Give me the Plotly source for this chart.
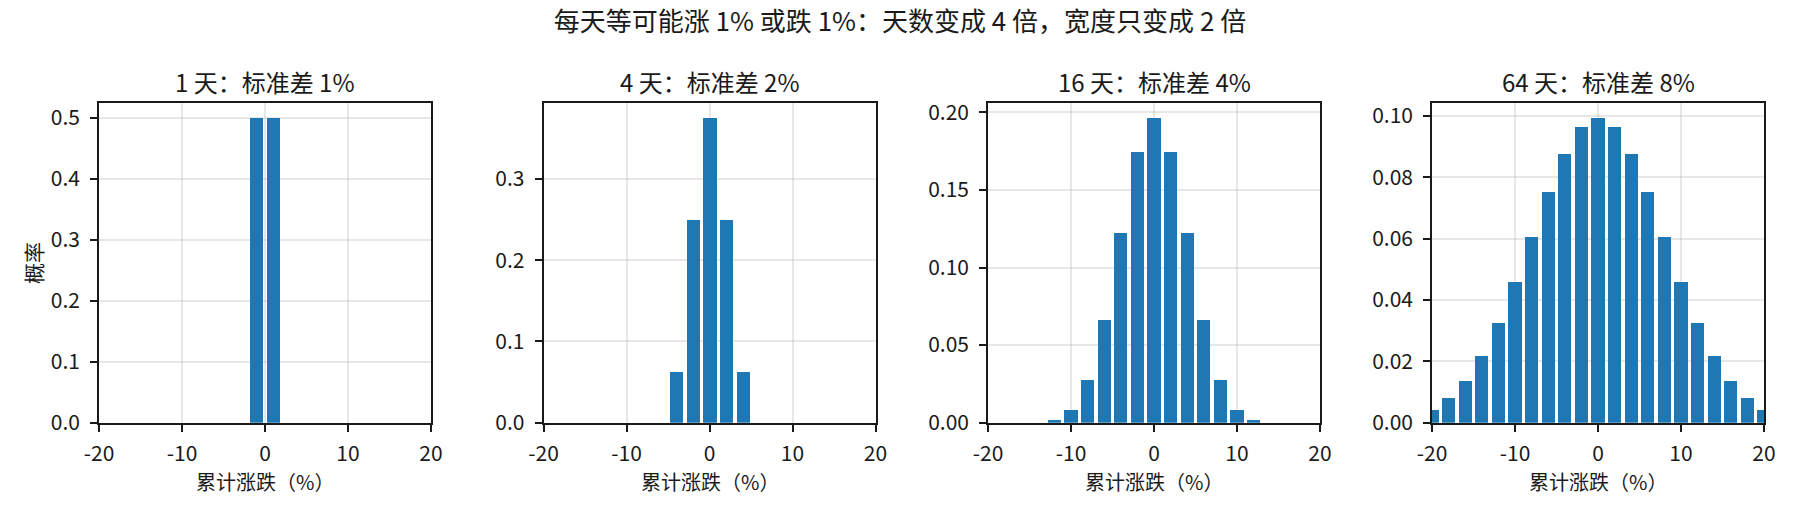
"""
Random walk of +1% / -1% per day: distribution of the cumulative move
after 1, 4, 16 and 64 days, drawn as four bar panels side by side.
"""
import plotly.graph_objects as go

# ---------------------------------------------------------------------------
# Data
# ---------------------------------------------------------------------------
x_1d = [-1, 1]
p_1d = [0.5, 0.5]

x_4d = [-4, -2, 0, 2, 4]
p_4d = [0.0625, 0.25, 0.375, 0.25, 0.0625]

x_16d = [-12, -10, -8, -6, -4, -2, 0, 2, 4, 6, 8, 10, 12]
p_16d = [0.0018, 0.0085, 0.0278, 0.0667, 0.1222, 0.1746, 0.1964,
         0.1746, 0.1222, 0.0667, 0.0278, 0.0085, 0.0018]

x_64d = [-20, -18, -16, -14, -12, -10, -8, -6, -4, -2, 0,
         2, 4, 6, 8, 10, 12, 14, 16, 18, 20]
p_64d = [0.0044, 0.0080, 0.0136, 0.0217, 0.0326, 0.0459, 0.0606, 0.0753,
         0.0878, 0.0963, 0.0993, 0.0963, 0.0878, 0.0753, 0.0606, 0.0459,
         0.0326, 0.0217, 0.0136, 0.0080, 0.0044]

panel_titles = ['1 天：标准差 1%', '4 天：标准差 2%',
                '16 天：标准差 4%', '64 天：标准差 8%']
suptitle = '每天等可能涨 1% 或跌 1%：天数变成 4 倍，宽度只变成 2 倍'
x_label = '累计涨跌（%）'
y_label = '概率'

x_tickvals = [-20, -10, 0, 10, 20]
x_ticktext = ['-20', '-10', '0', '10', '20']
y_dticks = [0.1, 0.1, 0.05, 0.02]
y_formats = ['.1f', '.1f', '.2f', '.2f']

# ---------------------------------------------------------------------------
# Layout helpers
# ---------------------------------------------------------------------------
W, H = 1800, 510
FONT = 'Noto Sans CJK SC, Noto Sans, sans-serif'
BLUE = '#1f77b4'
INK = '#1a1a1a'
GRID = 'rgba(176,176,176,0.3)'

# axes boxes in pixels (left, right), shared top / bottom
boxes = [(99, 431), (543.5, 875.5), (988, 1320), (1432, 1764)]
top_px, bottom_px = 102.7, 422.7


def px_x(v):
    return v / W


def px_y(v):
    return 1 - v / H


series = [(x_1d, p_1d), (x_4d, p_4d), (x_16d, p_16d), (x_64d, p_64d)]

fig = go.Figure()
annotations = []
for i, ((xs, ps), title) in enumerate(zip(series, panel_titles)):
    n = '' if i == 0 else str(i + 1)
    fig.add_trace(go.Bar(x=xs, y=ps, width=1.6, marker_color=BLUE,
                         marker_line_width=0, showlegend=False,
                         hoverinfo='x+y',
                         xaxis=f'x{n}', yaxis=f'y{n}'))

    left, right = boxes[i]
    axis_common = dict(showline=True, mirror=True, linecolor=INK,
                       linewidth=1.6, ticks='outside', ticklen=7,
                       tickwidth=1.6, tickcolor=INK, showgrid=True,
                       gridcolor=GRID, gridwidth=1.6, zeroline=False,
                       layer='above traces', automargin=False,
                       tickfont=dict(family=FONT, size=21, color=INK))
    fig.update_layout({
        f'xaxis{n}': dict(axis_common,
                          domain=[px_x(left), px_x(right)],
                          anchor=f'y{n}', range=[-20, 20],
                          tickvals=x_tickvals, ticktext=x_ticktext,
                          ticklabelstandoff=4),
        f'yaxis{n}': dict(axis_common,
                          domain=[px_y(bottom_px), px_y(top_px)],
                          anchor=f'x{n}', range=[0, max(ps) * 1.05],
                          dtick=y_dticks[i], tick0=0,
                          tickformat=y_formats[i],
                          ticklabelstandoff=6),
    })

    centre = px_x((left + right) / 2)
    annotations.append(dict(text=title, x=centre, y=px_y(81),
                            xref='paper', yref='paper', showarrow=False,
                            xanchor='center', yanchor='middle',
                            font=dict(family=FONT, size=24, color=INK)))
    annotations.append(dict(text=x_label, x=centre, y=px_y(481),
                            xref='paper', yref='paper', showarrow=False,
                            xanchor='center', yanchor='middle',
                            font=dict(family=FONT, size=20, color=INK)))

annotations.append(dict(text=y_label, x=px_x(33), y=px_y(263),
                        xref='paper', yref='paper', showarrow=False,
                        textangle=-90, xanchor='center', yanchor='middle',
                        font=dict(family=FONT, size=21, color=INK)))

fig.update_layout(
    width=W, height=H,
    margin=dict(l=0, r=0, t=0, b=0, autoexpand=False),
    paper_bgcolor='white', plot_bgcolor='white',
    title=dict(text=suptitle, x=0.5, xanchor='center',
               y=px_y(21.5), yanchor='middle', yref='container',
               font=dict(family=FONT, size=26, color=INK)),
    annotations=annotations,
    bargap=0,
)

fig.write_html('out.html', config={'displayModeBar': False},
               post_script="document.body.style.margin='0';")
